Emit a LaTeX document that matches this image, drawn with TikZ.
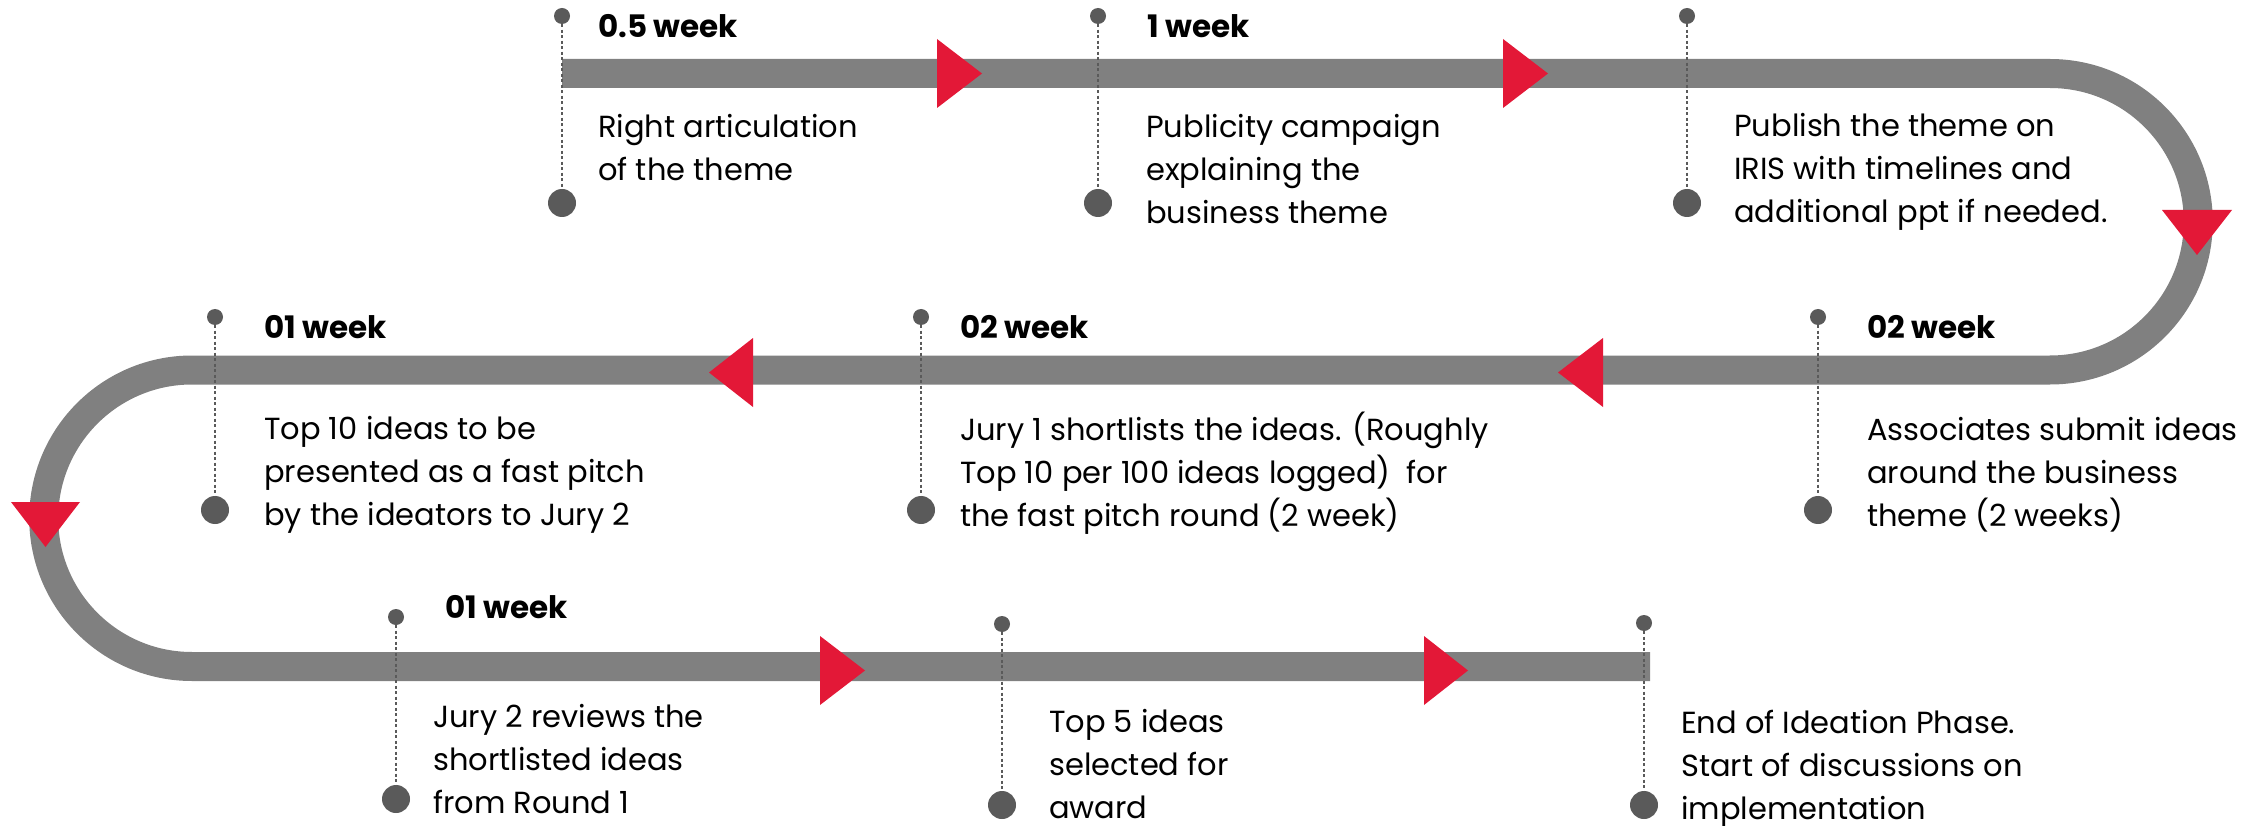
\documentclass[tikz,border=0pt]{standalone}
\usepackage{fontspec}
\setmainfont{Poppins}
\definecolor{trackgray}{HTML}{808080}
\definecolor{arrowred}{HTML}{E31837}
\definecolor{dotgray}{HTML}{5A5A5A}
\newcommand\txtlines[1]{\begin{tabular}[t]{@{}l@{}}#1\end{tabular}}
\tikzset{
  track/.style={draw=trackgray, line width=29pt, line cap=butt},
  arrowtri/.style={fill=arrowred},
  sdot/.style={circle, fill=dotgray, minimum size=16pt, inner sep=0pt},
  bdot/.style={circle, fill=dotgray, minimum size=28pt, inner sep=0pt},
  dotline/.style={draw=dotgray, line width=2pt, dash pattern=on 3pt off 2.5pt},
  weeklabel/.style={anchor=base west, inner sep=0pt, font=\fontsize{31}{40}\selectfont\bfseries},
  body/.style={anchor=base west, inner sep=0pt, font=\fontsize{30.5}{43}\selectfont},
}
\begin{document}
\begin{tikzpicture}[x=1pt, y=-1pt]
\useasboundingbox (0,0) rectangle (2257,826);
% track
\draw[track] (562,73.5) -- (2050,73.5)
  arc[start angle=-90, end angle=90, radius=148.25] -- (192,370)
  arc[start angle=-90, end angle=-270, radius=148.25] -- (1650,666.5);
% markers
\foreach \n/\x/\ys/\yb in {a/562/16/203, b/1098/16/203, c/1687/16/203,
  d/1818/317/510, e/921/317/510, f/215/317/510,
  g/396/617/799, h/1002/624/805, i/1644/623/805}{
  \node[sdot] (s\n) at (\x,\ys) {};
  \node[bdot] (b\n) at (\x,\yb) {};
  \draw[dotline] (s\n) -- (b\n);
}
% red arrow triangles
\fill[arrowtri] (937,39) -- (982,73.5) -- (937,108) -- cycle;
\fill[arrowtri] (1503,39) -- (1548,73.5) -- (1503,108) -- cycle;
\fill[arrowtri] (2162,210) -- (2232,210) -- (2197,255) -- cycle;
\fill[arrowtri] (1603,338) -- (1558,372.5) -- (1603,407) -- cycle;
\fill[arrowtri] (753,338) -- (709,372.5) -- (753,407) -- cycle;
\fill[arrowtri] (11,502) -- (80,502) -- (45.5,547) -- cycle;
\fill[arrowtri] (820,636) -- (865,670.5) -- (820,705) -- cycle;
\fill[arrowtri] (1424,636) -- (1468,670.5) -- (1424,705) -- cycle;
% labels
\node[weeklabel] (w1) at (598,38) {0.5 week};
\node[body] (t1) at (598,138) {\txtlines{Right articulation\\of the theme}};
\node[weeklabel] (w2) at (1147,38) {1 week};
\node[body] (t2) at (1146,138) {\txtlines{Publicity campaign\\explaining the\\business theme}};
\node[body] (t3) at (1734,137) {\txtlines{Publish the theme on\\IRIS with timelines and\\additional ppt if needed.}};
\node[weeklabel] (w4) at (1867,338) {02 week};
\node[body] (t4) at (1867,440) {\txtlines{Associates submit ideas\\around the business\\theme (2 weeks)}};
\node[weeklabel] (w5) at (960,338) {02 week};
\node[body] (t5) at (960,440) {\txtlines{Jury 1 shortlists the ideas. (Roughly\\Top 10 per 100 ideas logged)\ \ for\\the fast pitch round (2 week)}};
\node[weeklabel] (w6) at (264,338) {01 week};
\node[body] (t6) at (264,439) {\txtlines{Top 10 ideas to be\\presented as a fast pitch\\by the ideators to Jury 2}};
\node[weeklabel] (w7) at (445,618) {01 week};
\node[body] (t7) at (433,727) {\txtlines{Jury 2 reviews the\\shortlisted ideas\\from Round 1}};
\node[body] (t8) at (1049,732) {\txtlines{Top 5 ideas\\selected for\\award}};
\node[body] (t9) at (1681,733) {\txtlines{End of Ideation Phase.\\Start of discussions on\\implementation}};
\end{tikzpicture}
\end{document}
